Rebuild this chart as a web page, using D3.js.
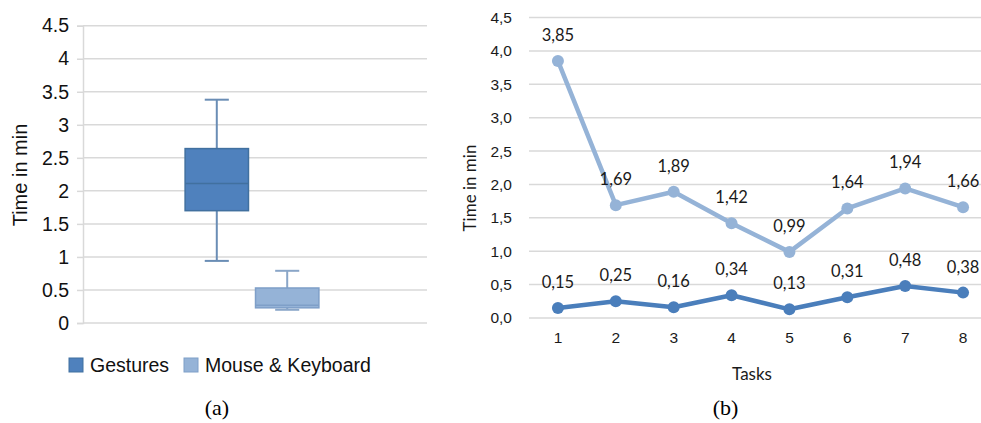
<!DOCTYPE html>
<html>
<head>
<meta charset="utf-8">
<script src="https://cdn.jsdelivr.net/npm/d3@7"></script>
<style>
  body { margin: 0; background: #fff; }
  svg { display: block; }
</style>
</head>
<body>
<script>
// ---- data, panel (a): box plot
const boxSeries = ['Gestures', 'Mouse & Keyboard'];
const boxMin    = [0.94, 0.20];
const boxQ1     = [1.70, 0.23];
const boxMedian = [2.11, 0.27];
const boxQ3     = [2.64, 0.53];
const boxMax    = [3.38, 0.79];
const leftTicks = [0, 0.5, 1, 1.5, 2, 2.5, 3, 3.5, 4, 4.5];

// ---- data, panel (b): time per task
const tasks = [1, 2, 3, 4, 5, 6, 7, 8];
const upperTimes = [3.85, 1.69, 1.89, 1.42, 0.99, 1.64, 1.94, 1.66];
const lowerTimes = [0.15, 0.25, 0.16, 0.34, 0.13, 0.31, 0.48, 0.38];
const rightTicks = [0, 0.5, 1, 1.5, 2, 2.5, 3, 3.5, 4, 4.5];

const W = 981, H = 423;
const DARK = '#4f81bd', LIGHT = '#95b3d7';
const GRID = '#d9d9d9';

const svg = d3.select('body').append('svg')
  .attr('width', W).attr('height', H)
  .style('background', '#fff');

// ================= panel (a)
(function boxPanel() {
  const g = svg.append('g').attr('font-family', '"Liberation Sans", Arial, sans-serif');
  const y = d3.scaleLinear().domain([0, 4.5]).range([323, 25.7]);
  const x0 = d3.scaleBand().domain(['all']).range([83, 421]).paddingOuter(0.7);
  const x1 = d3.scaleBand().domain(boxSeries).range([0, x0.bandwidth()])
    .paddingInner(0.1).paddingOuter(0.05);

  // gridlines
  g.append('g').selectAll('line').data(leftTicks).join('line')
    .attr('x1', 83).attr('x2', 427)
    .attr('y1', d => y(d)).attr('y2', d => y(d))
    .attr('stroke', GRID).attr('stroke-width', 1.5);

  const axis = g.append('g').attr('transform', 'translate(83,0)')
    .call(d3.axisLeft(y).tickValues(leftTicks).tickSize(6).tickPadding(8).tickFormat(d => String(d)));
  axis.select('.domain').attr('stroke', GRID).attr('stroke-width', 1.5);
  axis.selectAll('.tick line').attr('stroke', GRID).attr('stroke-width', 1.5);
  axis.selectAll('text').attr('font-size', 19.5).attr('fill', '#111');

  g.append('text')
    .attr('transform', 'translate(27,175) rotate(-90)')
    .attr('text-anchor', 'middle')
    .attr('font-size', 20).attr('fill', '#111')
    .text('Time in min');

  const fills = [DARK, LIGHT];
  const strokes = ['#41709f', '#7f9fc8'];
  const whisk = ['#6a8db5', '#8aa6c8'];
  const bw = x1.bandwidth();
  const boxes = g.append('g').selectAll('g').data(boxSeries).join('g')
    .attr('transform', d => `translate(${x0('all') + x1(d)},0)`);

  boxes.each(function(d, i) {
    const b = d3.select(this);
    const cx = bw / 2, cap = bw * 0.19;
    b.append('line').attr('x1', cx).attr('x2', cx)
      .attr('y1', y(boxMax[i])).attr('y2', y(boxQ3[i]))
      .attr('stroke', whisk[i]).attr('stroke-width', 2);
    b.append('line').attr('x1', cx).attr('x2', cx)
      .attr('y1', y(boxQ1[i])).attr('y2', y(boxMin[i]))
      .attr('stroke', whisk[i]).attr('stroke-width', 2);
    [boxMax[i], boxMin[i]].forEach(v => {
      b.append('line').attr('x1', cx - cap).attr('x2', cx + cap)
        .attr('y1', y(v)).attr('y2', y(v))
        .attr('stroke', whisk[i]).attr('stroke-width', 2);
    });
    b.append('rect').attr('x', 0).attr('width', bw)
      .attr('y', y(boxQ3[i])).attr('height', y(boxQ1[i]) - y(boxQ3[i]))
      .attr('fill', fills[i]).attr('stroke', strokes[i]).attr('stroke-width', 1.5);
    b.append('line').attr('x1', 0).attr('x2', bw)
      .attr('y1', y(boxMedian[i])).attr('y2', y(boxMedian[i]))
      .attr('stroke', strokes[i]).attr('stroke-width', 1.5);
  });

  // legend
  const legX = [69, 184];
  const leg = g.append('g').selectAll('g').data(boxSeries).join('g')
    .attr('transform', (d, i) => `translate(${legX[i]},358)`);
  leg.append('rect').attr('width', 14).attr('height', 14)
    .attr('fill', (d, i) => fills[i]).attr('stroke', (d, i) => strokes[i]).attr('stroke-width', 1);
  leg.append('text').attr('x', 21).attr('y', 14)
    .attr('font-size', 19.5).attr('fill', '#111').text(d => d);

  g.append('text').attr('x', 217).attr('y', 415)
    .attr('text-anchor', 'middle')
    .attr('font-family', '"Liberation Serif", "DejaVu Serif", serif')
    .attr('font-size', 22).text('(a)');
})();

// ================= panel (b)
(function linePanel() {
  const g = svg.append('g').attr('font-family', 'Lato, "Open Sans", sans-serif');
  const y = d3.scaleLinear().domain([0, 4.5]).range([318, 17.5]);
  const x = d3.scaleBand().domain(tasks).range([529, 992]);
  const locale = d3.formatLocale({ decimal: ',', thousands: '.', grouping: [3], currency: ['', '€'] });
  const fmt = locale.format('.2f');
  const fmt1 = locale.format('.1f');
  const cx = d => x(d) + x.bandwidth() / 2;

  g.append('g').selectAll('line').data(rightTicks).join('line')
    .attr('x1', 529).attr('x2', 992)
    .attr('y1', d => y(d)).attr('y2', d => y(d))
    .attr('stroke', GRID).attr('stroke-width', 1.5);

  const ya = g.append('g').attr('transform', 'translate(529,0)')
    .call(d3.axisLeft(y).tickValues(rightTicks).tickSize(0).tickPadding(17).tickFormat(fmt1));
  ya.select('.domain').remove();
  ya.selectAll('text').attr('font-size', 15.5).attr('fill', '#1a1a1a');

  const xa = g.append('g').attr('transform', 'translate(0,318)')
    .call(d3.axisBottom(x).tickSize(0).tickPadding(14));
  xa.select('.domain').remove();
  xa.selectAll('text').attr('font-size', 15.5).attr('fill', '#1a1a1a');

  g.append('text').attr('x', 752).attr('y', 380)
    .attr('text-anchor', 'middle').attr('font-size', 17).attr('fill', '#1a1a1a')
    .text('Tasks');
  g.append('text')
    .attr('transform', 'translate(476,188) rotate(-90)')
    .attr('text-anchor', 'middle').attr('font-size', 17).attr('fill', '#1a1a1a')
    .text('Time in min');

  const line = d3.line().x((d, i) => cx(tasks[i])).y(d => y(d));
  [[upperTimes, LIGHT], [lowerTimes, '#4a7ebb']].forEach(([vals, col]) => {
    const s = g.append('g');
    s.append('path').datum(vals).attr('d', line)
      .attr('fill', 'none').attr('stroke', col).attr('stroke-width', 4.5)
      .attr('stroke-linejoin', 'round');
    s.selectAll('circle').data(vals).join('circle')
      .attr('cx', (d, i) => cx(tasks[i])).attr('cy', d => y(d))
      .attr('r', 6).attr('fill', col);
    s.selectAll('text').data(vals).join('text')
      .attr('x', (d, i) => cx(tasks[i])).attr('y', d => y(d) - 20)
      .attr('text-anchor', 'middle').attr('font-size', 16.5).attr('fill', '#1a1a1a')
      .text(d => fmt(d));
  });

  g.append('text').attr('x', 725.5).attr('y', 415)
    .attr('text-anchor', 'middle')
    .attr('font-family', '"Liberation Serif", "DejaVu Serif", serif')
    .attr('font-size', 22).text('(b)');
})();
</script>
</body>
</html>
